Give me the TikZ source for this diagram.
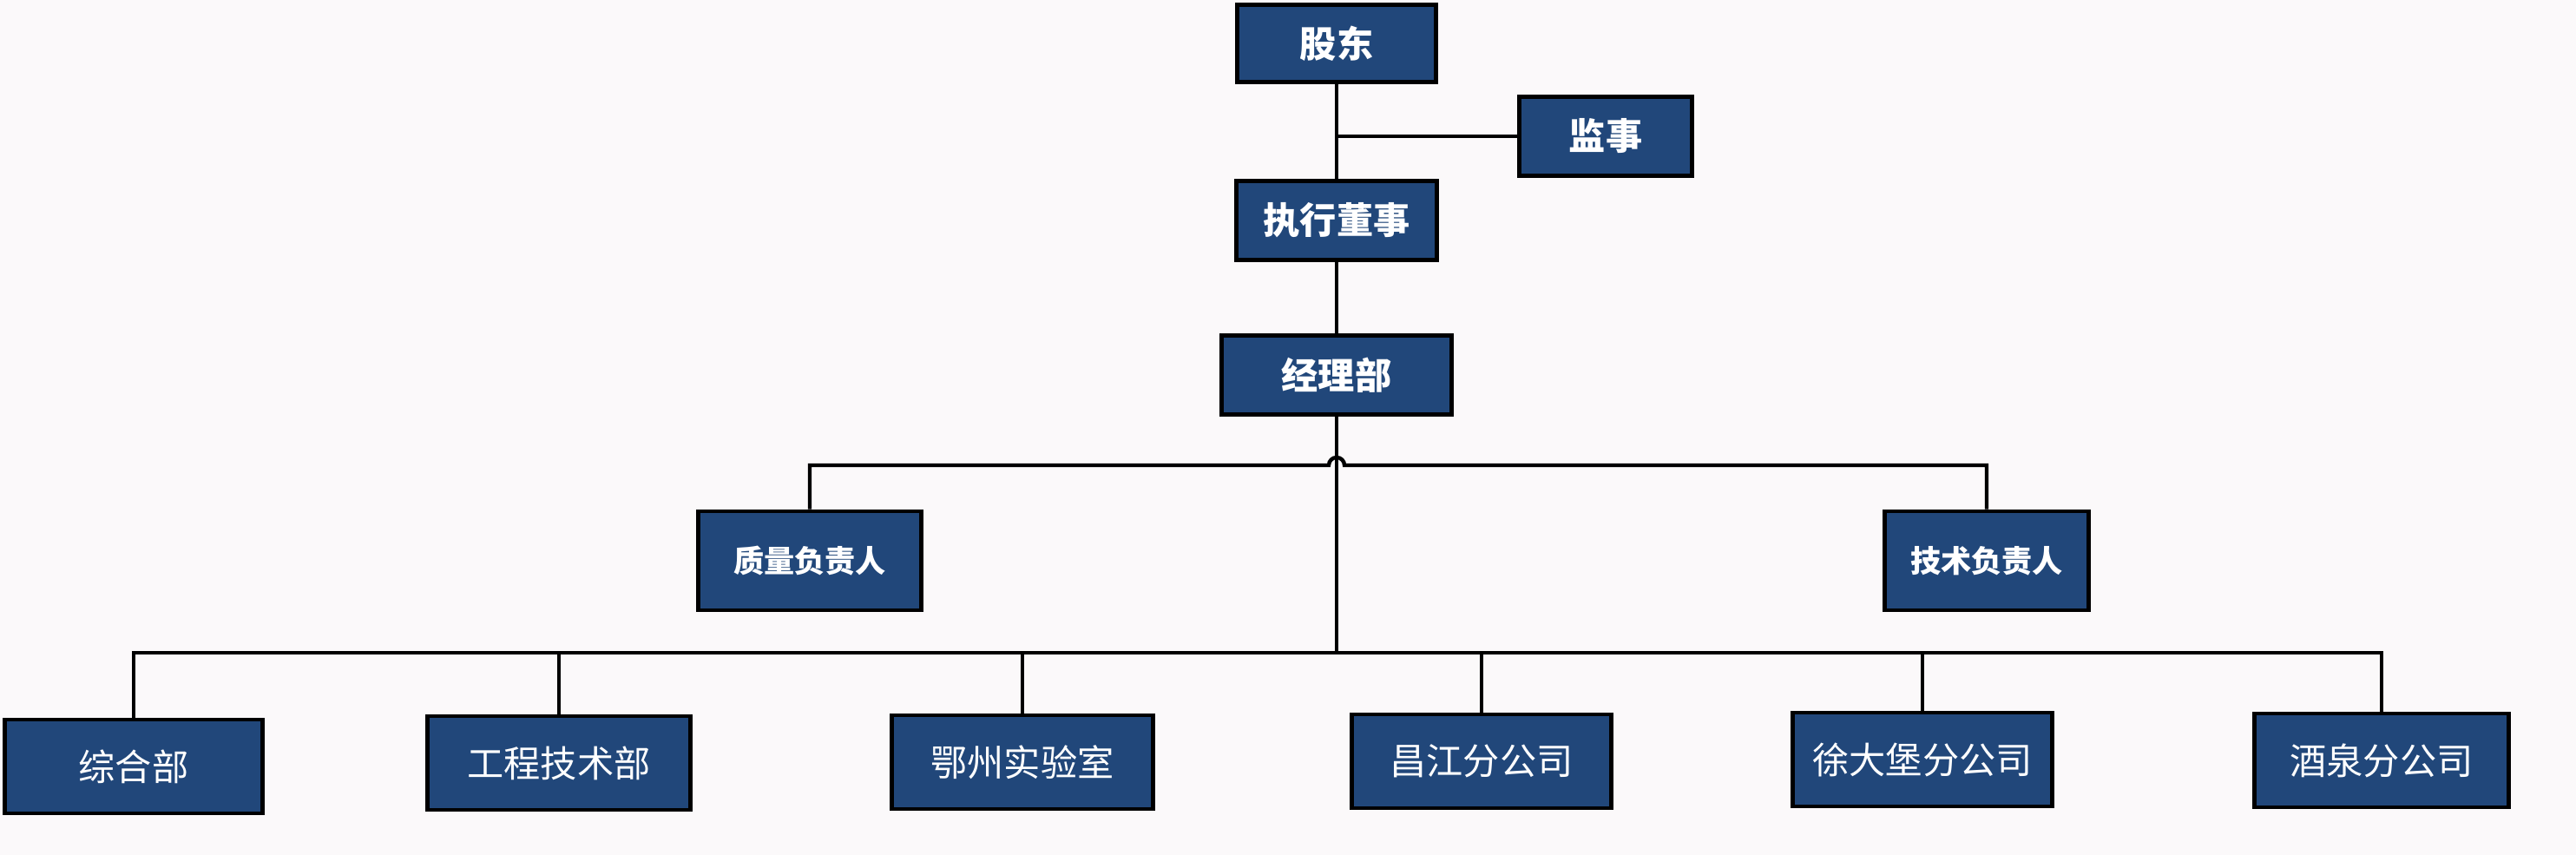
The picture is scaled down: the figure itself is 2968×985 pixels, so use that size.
\documentclass[tikz,border=0pt]{standalone}
\usepackage{fontspec}
\setmainfont{Noto Sans CJK SC}
\usetikzlibrary{positioning}
\definecolor{Page}{HTML}{FBF9FA}
\definecolor{Navy}{HTML}{21477A}
\tikzset{
  unit/.style={draw=black,line width=1.4pt,fill=Navy,text=white,inner sep=0pt},
  head/.style={unit,font=\bfseries\fontsize{12}{14}\selectfont},
  lead/.style={unit,font=\bfseries\fontsize{10}{12}\selectfont},
  dept/.style={unit,font=\fontsize{12}{14}\selectfont,minimum height=1.08cm},
  link/.style={line width=1.25pt}
}

\begin{document}
\begin{tikzpicture}[x=.01cm,y=-.01cm]
  \fill[Page](0,0)rectangle(2968,985);
  % top of the chart
  \node[head,minimum width=2.29cm,minimum height=.89cm](holder)at(1540,50){股东};
  \node[head,minimum width=1.99cm,minimum height=.91cm](supervisor)at(1850,157){监事};
  \node[head,minimum width=2.31cm,minimum height=.91cm](director)at(1540,254){执行董事};
  \node[head,minimum width=2.65cm,minimum height=.91cm](manager)at(1540,432){经理部};
  \node[lead,minimum width=2.57cm,minimum height=1.14cm](quality)at(933,646){质量负责人};
  \node[lead,minimum width=2.35cm,minimum height=1.14cm](tech)at(2289,646){技术负责人};
  % departments and branches
  \node[dept,minimum width=2.97cm](general)at(154,883){综合部};
  \node[dept,minimum width=3.03cm](engineering)at(644,879){工程技术部};
  \node[dept,minimum width=3.01cm](lab)at(1178,878){鄂州实验室};
  \node[dept,minimum width=2.99cm](changjiang)at(1707,877){昌江分公司};
  \node[dept,minimum width=2.99cm](xudabao)at(2215,875){徐大堡分公司};
  \node[dept,minimum width=2.93cm](jiuquan)at(2744,876){酒泉分公司};
  \coordinate(hop)at(1540,536);
  \coordinate(bus)at(1540,752);
  % connectors
  \draw[link](holder)--(director);
  \draw[link](holder.south|-supervisor.west)--(supervisor.west);
  \draw[link](director)--(manager);
  \draw[link](manager.south)--(bus);
  \draw[link](quality.north)|-([xshift=-.09cm]hop)arc[start angle=180,end angle=0,radius=.09cm]-|(tech.north);
  \draw[link](general.north)|-(jiuquan.north|-bus)--(jiuquan.north);
  \foreach \n in {engineering,lab,changjiang,xudabao}
    \draw[link](\n.north)--(\n.north|-bus);
\end{tikzpicture}
\end{document}
